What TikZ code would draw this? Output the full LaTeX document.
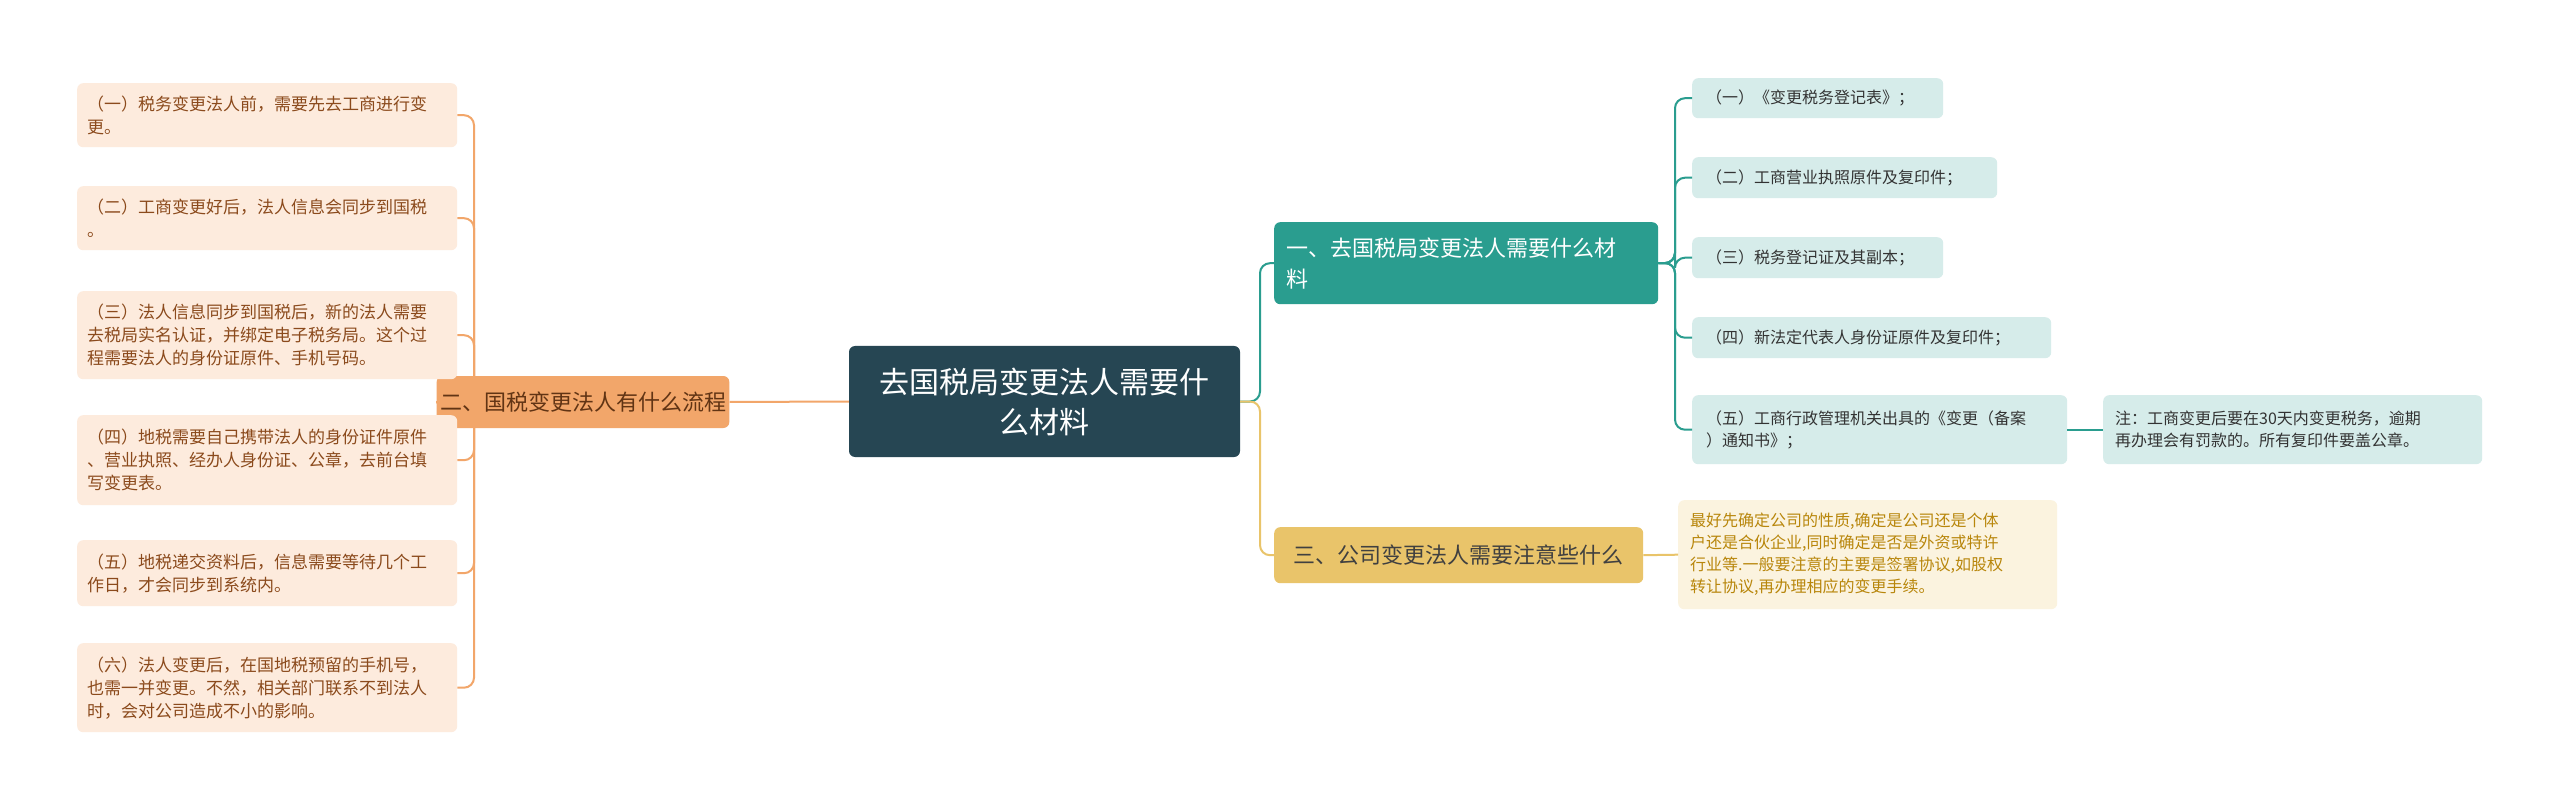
\documentclass[tikz,border=0pt]{standalone}
\usepackage{fontspec}
\setmainfont{Noto Sans CJK SC}
\begin{document}
\begin{tikzpicture}[x=1pt,y=-1pt,
  lbox/.style={anchor=north west,fill=lfill,rounded corners=6pt,text=ltext,font=\fontsize{17}{23}\selectfont,align=left,inner xsep=10pt,inner ysep=6pt},
  rbox/.style={anchor=north west,fill=rfill,rounded corners=6pt,text=black!80,font=\fontsize{16}{22}\selectfont,align=left,inner xsep=14pt,inner ysep=4pt},
  lline/.style={draw=lline,line width=2pt,rounded corners=10pt},
  tline/.style={draw=tline,line width=2pt,rounded corners=10pt},
  yline/.style={draw=yline,line width=2pt,rounded corners=10pt}]
\definecolor{lfill}{HTML}{FDEBDD}\definecolor{ltext}{HTML}{8B4A1C}
\definecolor{rfill}{HTML}{D6ECEA}\definecolor{lline}{HTML}{F2A66A}
\definecolor{tline}{HTML}{2A9D8F}\definecolor{yline}{HTML}{E9C46A}
\definecolor{cfill}{HTML}{264653}\definecolor{yfill}{HTML}{FBF3DF}
\definecolor{ytext}{HTML}{B8860B}
\useasboundingbox (0,0) rectangle (2560,810);
\fill[white] (0,0) rectangle (2560,810);
% center
\node[fill=cfill,rounded corners=6pt,text=white,font=\fontsize{30}{40}\selectfont,align=center,minimum width=391pt,minimum height=111pt,text width=370pt] (c) at (1044.5,401.5) {去国税局变更法人需要什\\么材料};
% branches
\node[fill=lline,rounded corners=6pt,text=ltext!70!black,font=\fontsize{22}{28}\selectfont,minimum width=186pt,minimum height=52pt] (two) at (583,402) {二、国税变更法人有什么流程};
\node[fill=tline,rounded corners=6pt,text=white,font=\fontsize{22}{31}\selectfont,align=left,text width=360pt,minimum height=82pt,inner xsep=12pt,anchor=north west] (one) at (1274,222) {一、去国税局变更法人需要什么材\\料};
\node[fill=yline,rounded corners=6pt,text=black!75,font=\fontsize{22}{28}\selectfont,minimum width=369pt,minimum height=56pt,anchor=north west] (three) at (1274,527) {三、公司变更法人需要注意些什么};
% left boxes
\foreach \n/\y/\h/\t in {
 l1/83/64/{（一）税务变更法人前，需要先去工商进行变\\更。},
 l2/186/64/{（二）工商变更好后，法人信息会同步到国税\\。},
 l3/291/88/{（三）法人信息同步到国税后，新的法人需要\\去税局实名认证，并绑定电子税务局。这个过\\程需要法人的身份证原件、手机号码。},
 l4/415/90/{（四）地税需要自己携带法人的身份证件原件\\、营业执照、经办人身份证、公章，去前台填\\写变更表。},
 l5/540/66/{（五）地税递交资料后，信息需要等待几个工\\作日，才会同步到系统内。},
 l6/643/89/{（六）法人变更后，在国地税预留的手机号，\\也需一并变更。不然，相关部门联系不到法人\\时，会对公司造成不小的影响。}}
 {\node[lbox,text width=360pt,minimum height=\h pt] (\n) at (77,\y) {\t};}
% right items
\node[rbox,minimum height=40pt,text width=223pt] (r1) at (1692,78) {（一）《变更税务登记表》；};
\node[rbox,minimum height=41pt,text width=277pt] (r2) at (1692,157) {（二）工商营业执照原件及复印件；};
\node[rbox,minimum height=41pt,text width=223pt] (r3) at (1692,237) {（三）税务登记证及其副本；};
\node[rbox,minimum height=41pt,text width=331pt] (r4) at (1692,317) {（四）新法定代表人身份证原件及复印件；};
\node[rbox,minimum height=69pt,text width=347pt] (r5) at (1692,395) {（五）工商行政管理机关出具的《变更（备案\\）通知书》；};
\node[rbox,minimum height=69pt,text width=355pt,inner xsep=12pt] (note) at (2103,395) {注：工商变更后要在30天内变更税务，逾期\\再办理会有罚款的。所有复印件要盖公章。};
\node[anchor=north west,fill=yfill,rounded corners=6pt,text=ytext,font=\fontsize{16}{22}\selectfont,align=left,text width=355pt,minimum height=109pt,inner xsep=12pt] (ybox) at (1678,500) {最好先确定公司的性质,确定是公司还是个体\\户还是合伙企业,同时确定是否是外资或特许\\行业等.一般要注意的主要是签署协议,如股权\\转让协议,再办理相应的变更手续。};
% connectors
\draw[lline] (c.west) -- (two.east);
\foreach \n in {l1,l2,l3,l4,l5,l6} \draw[lline] (two.west) -- (474,402) |- (\n.east);
\draw[tline] (c.east) -- (1260,401.5) |- (one.west);
\draw[yline] (c.east) -- (1260,401.5) |- (three.west);
\foreach \n in {r1,r2,r3,r4,r5} \draw[tline] (one.east) -- (1675,263) |- (\n.west);
\draw[tline] (r5.east) -- (note.west);
\draw[yline] (three.east) -- (ybox.west);
\end{tikzpicture}
\end{document}
